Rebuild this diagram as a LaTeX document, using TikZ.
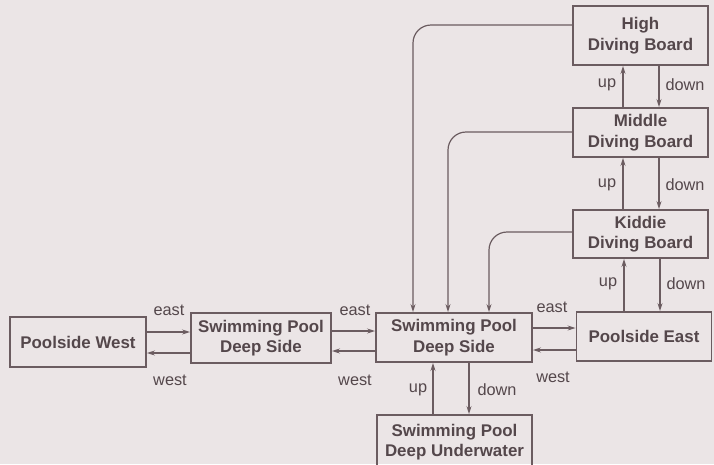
\documentclass[tikz,border=0pt]{standalone}
\usepackage{fontspec}
\setmainfont{Liberation Sans}
\usetikzlibrary{arrows.meta}
\definecolor{bgc}{HTML}{EBE5E6}
\definecolor{linec}{HTML}{6B5C60}
\definecolor{textc}{HTML}{54474B}
\tikzset{
  room/.style={draw=linec, line width=1.9pt, text=textc, font=\bfseries\fontsize{16.9}{20.5}\selectfont, align=center, inner sep=0pt, anchor=center},
  arr/.style={draw=linec, line width=1.2pt, -{Stealth[length=8pt,width=5pt]}},
  curv/.style={arr, rounded corners=18pt},
  lbl/.style={text=textc, font=\fontsize{16.3}{18}\selectfont, inner sep=0pt, anchor=center},
}
\begin{document}
\begin{tikzpicture}[x=1pt,y=-1pt]
\fill[bgc] (0,0) rectangle (714,464);
\useasboundingbox (0,0) rectangle (714,464);
\begin{scope}
\clip (0,0) rectangle (714,464);
\node[room, minimum width=136pt, minimum height=50pt] (PW) at (78,342) {Poolside West};
\node[room, minimum width=140pt, minimum height=50pt] (LDS) at (261,338) {Swimming Pool\\Deep Side};
\node[room, minimum width=156pt, minimum height=49pt] (CDS) at (454,337.5) {Swimming Pool\\Deep Side};
\node[room, minimum width=135pt, minimum height=49pt] (PE) at (644,336.5) {Poolside East};
\node[room, minimum width=155pt, minimum height=54pt] (UW) at (454.5,442) {Swimming Pool\\Deep Underwater};
\node[room, minimum width=135pt, minimum height=59pt] (HDB) at (640.5,35.5) {High\\Diving Board};
\node[room, minimum width=135pt, minimum height=49pt] (MDB) at (640.5,132.5) {Middle\\Diving Board};
\node[room, minimum width=135pt, minimum height=48pt] (KDB) at (640.5,234) {Kiddie\\Diving Board};
\end{scope}

% horizontal connectors
\draw[arr] (PW.east |- 0,332) -- (LDS.west |- 0,332);
\draw[arr] (LDS.west |- 0,353) -- (PW.east |- 0,353);
\draw[arr] (LDS.east |- 0,331) -- (CDS.west |- 0,331);
\draw[arr] (CDS.west |- 0,351) -- (LDS.east |- 0,351);
\draw[arr] (CDS.east |- 0,328) -- (PE.west |- 0,328);
\draw[arr] (PE.west |- 0,350) -- (CDS.east |- 0,350);

% vertical connectors
\draw[arr] (UW.north -| 433,0) -- (CDS.south -| 433,0);
\draw[arr] (CDS.south -| 469,0) -- (UW.north -| 469,0);
\draw[arr] (PE.north -| 624,0) -- (KDB.south -| 624,0);
\draw[arr] (KDB.south -| 660,0) -- (PE.north -| 660,0);
\draw[arr] (KDB.north -| 623,0) -- (MDB.south -| 623,0);
\draw[arr] (MDB.south -| 659,0) -- (KDB.north -| 659,0);
\draw[arr] (MDB.north -| 623,0) -- (HDB.south -| 623,0);
\draw[arr] (HDB.south -| 659,0) -- (MDB.north -| 659,0);

% curved connectors to the deep side
\draw[curv] (HDB.west |- 0,25) -| (CDS.north -| 413,0);
\draw[curv] (MDB.west |- 0,132) -| (CDS.north -| 448,0);
\draw[curv] (KDB.west |- 0,232) -| (CDS.north -| 489,0);

% labels
\node[lbl] (e1) at (169,310) {east};
\node[lbl] (w1) at (170,380) {west};
\node[lbl] (e2) at (355,310) {east};
\node[lbl] (w2) at (355,380) {west};
\node[lbl] (e3) at (552,307) {east};
\node[lbl] (w3) at (553,377) {west};
\node[lbl] (u1) at (418,390) {up};
\node[lbl] (d1) at (497,390) {down};
\node[lbl] (u2) at (608,284) {up};
\node[lbl] (d2) at (686,284) {down};
\node[lbl] (u3) at (607,185) {up};
\node[lbl] (d3) at (685,185) {down};
\node[lbl] (u4) at (607,85) {up};
\node[lbl] (d4) at (685,85) {down};
\end{tikzpicture}
\end{document}
